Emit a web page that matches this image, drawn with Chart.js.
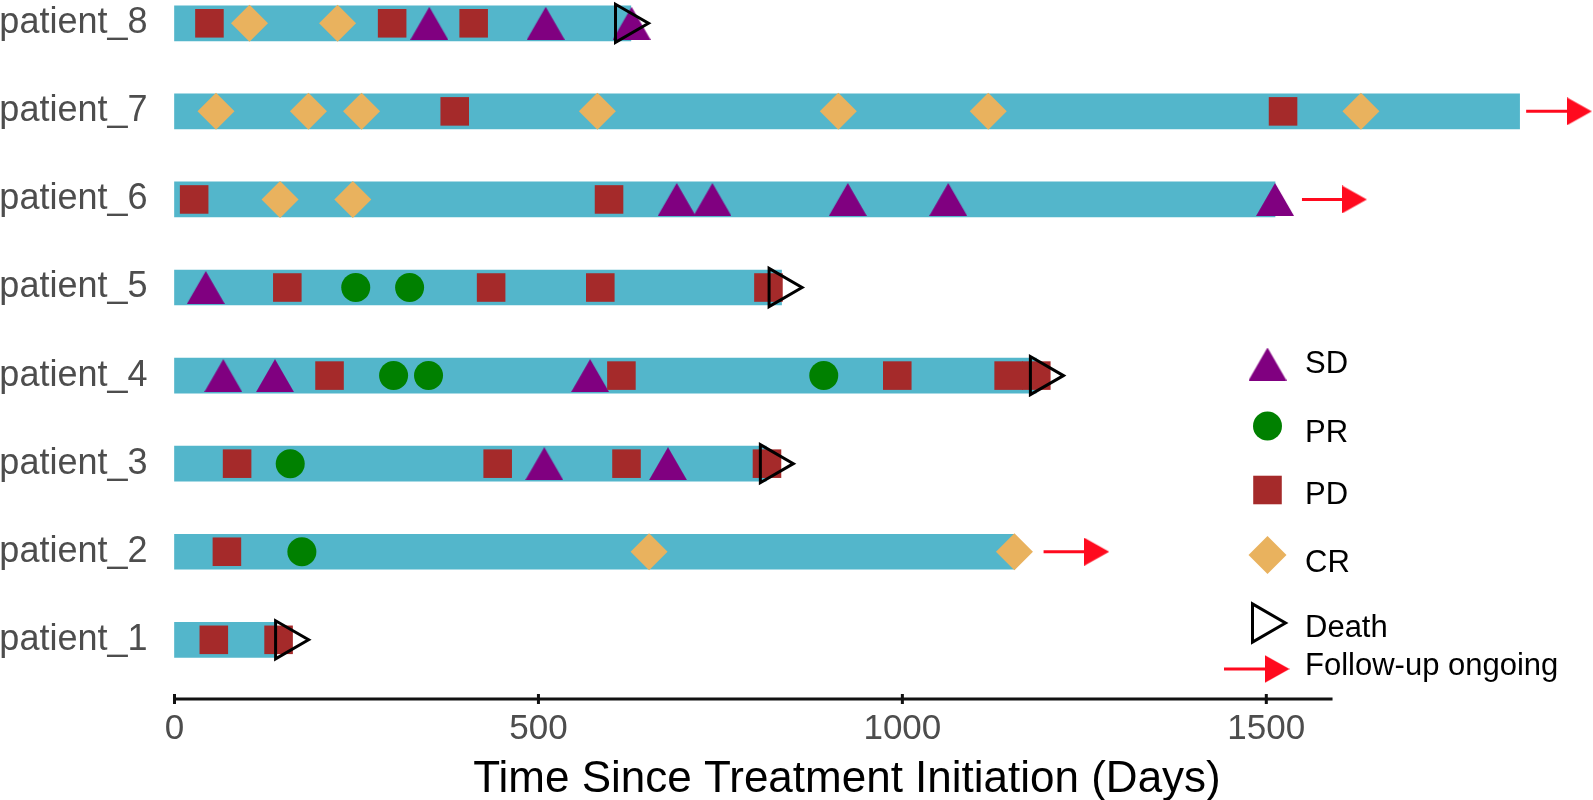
<!DOCTYPE html>
<html>
<head>
<meta charset="utf-8">
<title>Swimmer plot</title>
<script src="https://cdn.jsdelivr.net/npm/chart.js@4.4.1/dist/chart.umd.min.js"></script>
<style>
  html, body { margin: 0; padding: 0; background: #ffffff; }
</style>
</head>
<body>
<canvas id="swimmer" width="1593" height="800"></canvas>
<script>
// patients, bottom to top
const patients = ['patient_1', 'patient_2', 'patient_3', 'patient_4', 'patient_5', 'patient_6', 'patient_7', 'patient_8'];
const followUpDays = [138, 1154, 813, 1184, 834, 1512, 1848, 627];

// response events: [patient number, day]
const sdEvents = [[8, 350], [8, 510], [8, 628], [6, 690], [6, 739], [6, 925], [6, 1063], [6, 1512],
  [5, 43], [4, 67], [4, 138], [4, 571], [3, 508], [3, 678]];
const prEvents = [[5, 249], [5, 323], [4, 301], [4, 349], [4, 892], [3, 159], [2, 175]];
const pdEvents = [[8, 48], [8, 299], [8, 411], [7, 385], [7, 1523], [6, 27], [6, 597],
  [5, 155], [5, 435], [5, 585], [5, 816], [4, 213], [4, 614], [4, 993], [4, 1146], [4, 1184],
  [3, 86], [3, 444], [3, 621], [3, 814], [2, 72], [1, 54], [1, 143]];
const crEvents = [[8, 103], [8, 224], [7, 57], [7, 184], [7, 257], [7, 581], [7, 912], [7, 1118], [7, 1630],
  [6, 145], [6, 245], [2, 652], [2, 1154]];
const deathEvents = [[8, 621], [5, 832], [4, 1191], [3, 820], [1, 154]];

// follow-up ongoing arrows: [patient number, from day, arrow head day]
const ongoingArrows = [[7, 1857, 1930], [6, 1549, 1621], [2, 1194, 1267]];

const xTicks = [0, 500, 1000, 1500];
const xAxisEnd = 1591;
const legendLabels = ['SD', 'PR', 'PD', 'CR', 'Death', 'Follow-up ongoing'];

const barColor = '#53b6cb';
const sdColor = '#800080';
const prColor = '#008000';
const pdColor = '#a52a2a';
const crColor = '#e9b25e';
const arrowColor = '#ff0a1e';
const fontFamily = '"Liberation Sans", Arial, Helvetica, sans-serif';

const toPoints = list => list.map(([p, d]) => ({ x: d, y: p }));

// small canvases used as point styles, drawn centred on the point
function shapeCanvas(color, w, h, pts) {
    const c = document.createElement('canvas');
    c.width = w;
    c.height = h;
    const g = c.getContext('2d');
    g.fillStyle = color;
    g.beginPath();
    pts.forEach(([px, py], i) => (i ? g.lineTo(px * w, py * h) : g.moveTo(px * w, py * h)));
    g.closePath();
    g.fill();
    return c;
}
const sdMarker = shapeCanvas(sdColor, 38, 33, [[0.5, 0], [1, 1], [0, 1]]);
const arrowHead = shapeCanvas(arrowColor, 25, 28, [[0, 0], [1, 0.5], [0, 1]]);

function markerSet(label, list, style, radius, fill, order) {
    return {
        type: 'scatter',
        label: label,
        data: toPoints(list),
        pointStyle: style,
        pointRadius: radius,
        pointBackgroundColor: fill,
        pointBorderWidth: 0,
        clip: false,
        order: order
    };
}

// x axis line only runs to the last break, as in the original
const cappedAxis = {
    id: 'cappedAxis',
    afterDraw(chart) {
        const xs = chart.scales.x;
        const ctx = chart.ctx;
        const y = xs.top;
        ctx.save();
        ctx.strokeStyle = '#111111';
        ctx.lineWidth = 3;
        ctx.beginPath();
        ctx.moveTo(xs.getPixelForValue(0), y);
        ctx.lineTo(xs.getPixelForValue(xAxisEnd), y);
        xTicks.forEach(v => {
            const px = xs.getPixelForValue(v);
            ctx.moveTo(px, y - 5);
            ctx.lineTo(px, y + 5);
        });
        ctx.stroke();
        ctx.restore();
    }
};

const swimLegend = {
    id: 'swimLegend',
    afterDraw(chart) {
        const ctx = chart.ctx;
        const drawPoint = Chart.helpers.drawPoint;
        const markerX = 1267.5;
        const textX = 1305;
        const items = [
            { style: sdMarker, radius: 20, fill: sdColor, y: 364, base: 373 },
            { style: 'circle', radius: 14.5, fill: prColor, y: 426, base: 442 },
            { style: 'rect', radius: 20.2, fill: pdColor, y: 490, base: 504 },
            { style: 'rectRot', radius: 19, fill: crColor, y: 555, base: 572 },
            { style: 'triangle', radius: 22, rotation: 90, fill: 'rgba(0,0,0,0)', border: 3, y: 623, base: 637, dx: -4 },
            { arrow: true, y: 669, base: 675 }
        ];
        ctx.save();
        items.forEach((it, i) => {
            if (it.arrow) {
                ctx.strokeStyle = arrowColor;
                ctx.lineWidth = 3;
                ctx.beginPath();
                ctx.moveTo(1224, it.y);
                ctx.lineTo(1270, it.y);
                ctx.stroke();
                drawPoint(ctx, { pointStyle: arrowHead, rotation: 0, radius: 10, borderWidth: 0 }, 1277, it.y);
            } else {
                ctx.fillStyle = it.fill;
                ctx.strokeStyle = '#000000';
                ctx.lineWidth = it.border || 0;
                drawPoint(ctx, { pointStyle: it.style, rotation: it.rotation || 0, radius: it.radius, borderWidth: it.border || 0 },
                    markerX + (it.dx || 0), it.y);
            }
            ctx.fillStyle = '#000000';
            ctx.font = '31px ' + fontFamily;
            ctx.textAlign = 'left';
            ctx.textBaseline = 'alphabetic';
            ctx.fillText(legendLabels[i], textX, it.base);
        });
        ctx.restore();
    }
};

const datasets = [
    {
        type: 'bar',
        label: 'follow-up',
        indexAxis: 'y',
        data: followUpDays.map((d, i) => ({ x: [0, d], y: i + 1 })),
        backgroundColor: barColor,
        borderWidth: 0,
        barThickness: 35,
        clip: false,
        order: 10
    },
    ...ongoingArrows.map(([p, from, to]) => ({
        type: 'scatter',
        label: 'ongoing',
        showLine: true,
        data: [{ x: from, y: p }, { x: to, y: p }],
        borderColor: arrowColor,
        borderWidth: 3,
        pointStyle: arrowHead,
        // head is an image, so radius only widens the visibility margin past the plot edge
        pointRadius: ctx => (ctx.dataIndex === 1 ? 70 : 0),
        pointBorderWidth: 0,
        clip: false,
        order: 9
    })),
    markerSet('SD', sdEvents, sdMarker, 20, sdColor, 6),
    markerSet('PR', prEvents, 'circle', 14.5, prColor, 5),
    markerSet('PD', pdEvents, 'rect', 20.2, pdColor, 4),
    markerSet('CR', crEvents, 'rectRot', 18.5, crColor, 3),
    {
        type: 'scatter',
        label: 'Death',
        data: toPoints(deathEvents),
        pointStyle: 'triangle',
        pointRotation: 90,
        pointRadius: 22,
        pointBackgroundColor: 'rgba(0,0,0,0)',
        pointBorderColor: '#000000',
        pointBorderWidth: 3,
        clip: false,
        order: 2
    }
];

new Chart(document.getElementById('swimmer'), {
    type: 'scatter',
    data: { datasets: datasets },
    options: {
        responsive: false,
        animation: false,
        events: [],
        layout: {
            autoPadding: false,
            padding: { top: 10, right: 73.4, bottom: 0, left: 0 }
        },
        plugins: {
            legend: { display: false },
            tooltip: { enabled: false }
        },
        scales: {
            x: {
                type: 'linear',
                min: 0,
                max: 1848,
                offset: false,
                grid: { display: false, drawTicks: false },
                border: { display: false },
                afterBuildTicks: s => { s.ticks = xTicks.map(v => ({ value: v })); },
                afterFit: s => { s.height = 101; },
                ticks: {
                    padding: 9,
                    maxRotation: 0,
                    color: '#4d4d4d',
                    font: { family: fontFamily, size: 35 },
                    callback: v => String(v)
                },
                title: {
                    display: true,
                    text: 'Time Since Treatment Initiation (Days)',
                    color: '#000000',
                    font: { family: fontFamily, size: 44, lineHeight: 0.9 },
                    padding: { top: 0, bottom: 0 }
                }
            },
            y: {
                type: 'linear',
                min: 0.328,
                max: 8.151,
                offset: false,
                grid: { display: false, drawTicks: false, offset: false },
                border: { display: false },
                afterBuildTicks: s => { s.ticks = patients.map((p, i) => ({ value: i + 1 })); },
                afterFit: s => {
                    s.width = 174.5;
                    s.paddingTop = 0;
                    s.paddingBottom = 0;
                },
                ticks: {
                    padding: 27,
                    autoSkip: false,
                    color: '#4d4d4d',
                    font: { family: fontFamily, size: 36 },
                    callback: v => patients[v - 1]
                }
            }
        }
    },
    plugins: [cappedAxis, swimLegend]
});
</script>
</body>
</html>
